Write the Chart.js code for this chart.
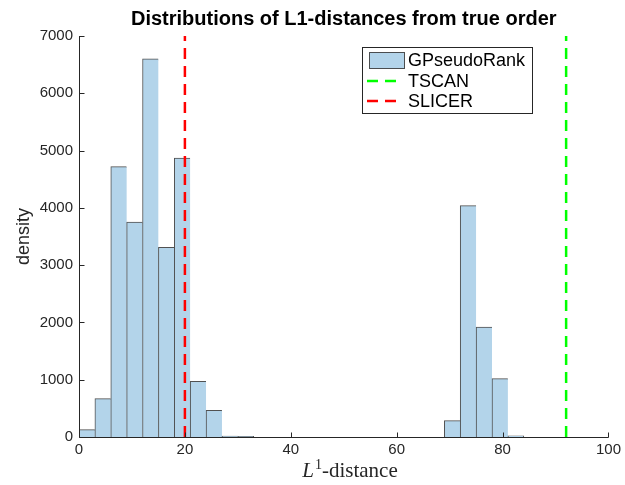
<!DOCTYPE html>
<html>
<head>
<meta charset="utf-8">
<script src="https://cdn.jsdelivr.net/npm/chart.js@4.4.0/dist/chart.umd.min.js"></script>
<style>
  html, body { margin: 0; padding: 0; background: #fff; }
  #wrap { width: 625px; height: 485px; }
</style>
</head>
<body>
<div id="wrap"><canvas id="myChart" width="625" height="485"></canvas></div>
<script>
// DATI DEL GRAFICO

// istogramma: bordo sinistro di ogni bin (larghezza 3) e conteggi
const binWidth = 3;
const binStarts = [0, 3, 6, 9, 12, 15, 18, 21, 24, 27, 30, 69, 72, 75, 78, 81];
const binCounts = [130, 670, 4720, 3750, 6600, 3310, 4870, 970, 465, 15, 10, 285, 4040, 1920, 1020, 20];

// linee verticali dei due metodi
const tscanDistance = 92;
const slicerDistance = 20;

const xTicks = [0, 20, 40, 60, 80, 100];
const yTicks = [0, 1000, 2000, 3000, 4000, 5000, 6000, 7000];

const titleText = 'Distributions of L1-distances from true order';
const yLabel = 'density';

const axisColor = '#262626';
const barFill = 'rgb(179, 212, 234)';
const barEdge = 'rgba(38, 38, 38, 0.8)';


// plugin: assi con tacche verso l'interno, titolo, etichette, legenda
const decorations = {
    id: 'decorations',
    afterDatasetsDraw(chart) {
        const ctx = chart.ctx;
        const area = chart.chartArea;
        const xs = chart.scales.x;
        const ys = chart.scales.y;
        const L = Math.round(area.left) + 0.5;
        const B = Math.round(area.bottom) + 0.5;

        ctx.save();
        ctx.strokeStyle = axisColor;
        ctx.lineWidth = 1;
        ctx.beginPath();
        ctx.moveTo(L, Math.round(area.top));
        ctx.lineTo(L, B);
        ctx.lineTo(Math.round(area.right) + 0.5, B);
        // tacche
        xTicks.forEach(v => {
            const px = Math.round(xs.getPixelForValue(v)) + 0.5;
            ctx.moveTo(px, B);
            ctx.lineTo(px, B - 5);
        });
        yTicks.forEach(v => {
            const py = Math.round(ys.getPixelForValue(v)) + 0.5;
            ctx.moveTo(L, py);
            ctx.lineTo(L + 5, py);
        });
        ctx.stroke();

        // titolo
        const cx = (area.left + area.right) / 2;
        ctx.fillStyle = '#000';
        ctx.font = 'bold 20px "Liberation Sans", Arial, sans-serif';
        ctx.textAlign = 'center';
        ctx.textBaseline = 'alphabetic';
        ctx.fillText(titleText, cx, 25);

        // etichetta asse y
        ctx.save();
        ctx.translate(29, (area.top + area.bottom) / 2);
        ctx.rotate(-Math.PI / 2);
        ctx.fillStyle = axisColor;
        ctx.font = '18px "Liberation Sans", Arial, sans-serif';
        ctx.fillText(yLabel, 0, 0);
        ctx.restore();

        // etichetta asse x: L^1-distance
        const fItal = 'italic 21px "Liberation Serif", serif';
        const fSup = '14px "Liberation Serif", serif';
        const fReg = '21px "Liberation Serif", serif';
        ctx.textAlign = 'left';
        ctx.font = fItal; const w1 = ctx.measureText('L').width;
        ctx.font = fSup; const w2 = ctx.measureText('1').width;
        ctx.font = fReg; const w3 = ctx.measureText('-distance').width;
        let x0 = 350 - (w1 + w2 + 1 + w3) / 2;
        const by = 477;
        ctx.fillStyle = axisColor;
        ctx.font = fItal; ctx.fillText('L', x0, by); x0 += w1 + 1;
        ctx.font = fSup; ctx.fillText('1', x0, by - 8); x0 += w2;
        ctx.font = fReg; ctx.fillText('-distance', x0, by);

        // legenda
        const ds = chart.data.datasets;
        ctx.fillStyle = '#fff';
        ctx.fillRect(362.5, 47.5, 170, 66);
        ctx.strokeStyle = axisColor;
        ctx.strokeRect(362.5, 47.5, 170, 66);

        ctx.fillStyle = ds[0].backgroundColor;
        ctx.fillRect(369.5, 52.5, 35, 16);
        ctx.strokeStyle = barEdge;
        ctx.strokeRect(369.5, 52.5, 35, 16);

        const rows = [65.5, 87, 107];
        ctx.font = '18px "Liberation Sans", Arial, sans-serif';
        ctx.fillStyle = '#000';
        ctx.fillText(ds[0].label, 408, rows[0]);
        [1, 2].forEach(k => {
            const y = rows[k] - 6;
            ctx.strokeStyle = ds[k].borderColor;
            ctx.lineWidth = ds[k].borderWidth;
            ctx.setLineDash(ds[k].borderDash);
            ctx.beginPath();
            ctx.moveTo(367, y);
            ctx.lineTo(397, y);
            ctx.stroke();
            ctx.setLineDash([]);
            ctx.fillText(ds[k].label, 408, rows[k]);
        });
        ctx.restore();
    }
};

const ctx = document.getElementById('myChart').getContext('2d');
const chart = new Chart(ctx, {
    type: 'bar',
    data: {
        datasets: [
            {
                label: 'GPseudoRank',
                data: binStarts.map((s, i) => ({ x: s + binWidth / 2, y: binCounts[i] })),
                backgroundColor: barFill,
                borderColor: barEdge,
                borderWidth: function(c) {
                    const i = c.dataIndex;
                    const last = i === binStarts.length - 1 || binStarts[i + 1] !== binStarts[i] + binWidth;
                    return { top: 1, left: 1, right: last ? 1 : 0, bottom: 0 };
                },
                barPercentage: 1,
                categoryPercentage: 1,
                order: 2
            },
            {
                type: 'line',
                label: 'TSCAN',
                data: [{ x: tscanDistance, y: 0 }, { x: tscanDistance, y: 7000 }],
                borderColor: '#00ff00',
                borderWidth: 2.5,
                borderDash: [11, 7],
                pointRadius: 0,
                fill: false,
                order: 1
            },
            {
                type: 'line',
                label: 'SLICER',
                data: [{ x: slicerDistance, y: 0 }, { x: slicerDistance, y: 7000 }],
                borderColor: '#ff0000',
                borderWidth: 2.5,
                borderDash: [11, 7],
                pointRadius: 0,
                fill: false,
                order: 1
            }
        ]
    },
    options: {
        responsive: false,
        animation: false,
        devicePixelRatio: 1,
        layout: { padding: { left: 0, top: 36, right: 14, bottom: 0 } },
        plugins: {
            legend: { display: false },
            title: { display: false },
            tooltip: { enabled: false }
        },
        scales: {
            x: {
                type: 'linear',
                min: 0,
                max: 100,
                offset: false,
                grid: { display: false, drawTicks: false, offset: false },
                border: { display: false },
                afterBuildTicks: s => { s.ticks = xTicks.map(v => ({ value: v })); },
                afterFit: s => { s.height = 48; },
                ticks: {
                    padding: 4,
                    maxRotation: 0,
                    color: axisColor,
                    font: { family: '"Liberation Sans", Arial, sans-serif', size: 15 },
                    callback: v => String(v)
                }
            },
            y: {
                type: 'linear',
                min: 0,
                max: 7000,
                grid: { display: false, drawTicks: false },
                border: { display: false },
                afterBuildTicks: s => { s.ticks = yTicks.map(v => ({ value: v })); },
                afterFit: s => { s.width = 79; },
                ticks: {
                    padding: 6,
                    color: axisColor,
                    font: { family: '"Liberation Sans", Arial, sans-serif', size: 15 },
                    callback: v => String(v)
                }
            }
        }
    },
    plugins: [decorations]
});
</script>
</body>
</html>
